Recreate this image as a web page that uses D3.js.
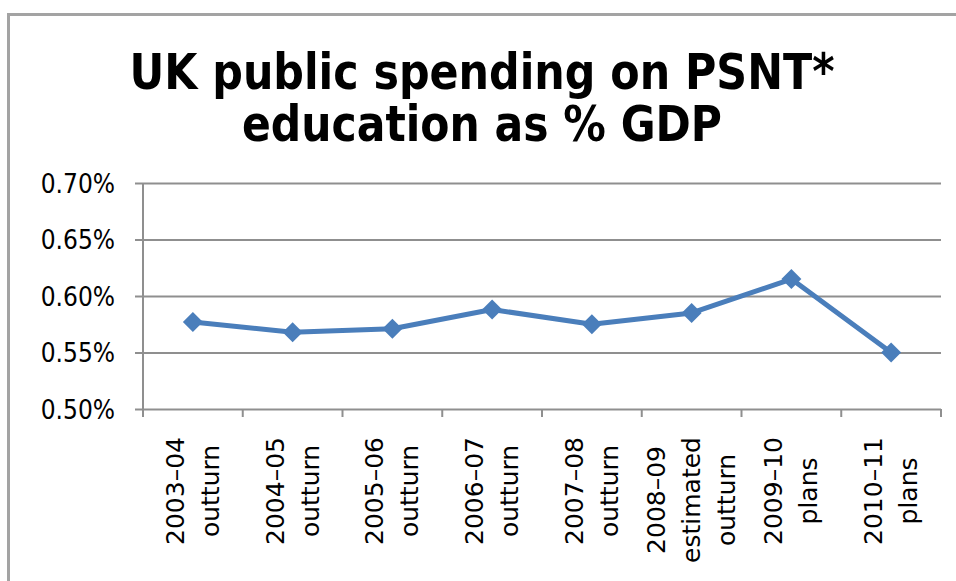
<!DOCTYPE html>
<html>
<head>
<meta charset="utf-8">
<script src="https://cdn.jsdelivr.net/npm/d3@7"></script>
<style>
  body { margin: 0; background: #fff; }
  text { fill: #000; }
</style>
</head>
<body>
<div id="chart"></div>
<script>
const width = 956,
    height = 581;

// data
const years = ['2003–04', '2004–05', '2005–06', '2006–07', '2007–08', '2008–09', '2009–10', '2010–11'];
const kinds = ['outturn', 'outturn', 'outturn', 'outturn', 'outturn', 'estimated outturn', 'plans', 'plans'];
const spending = [0.577, 0.568, 0.571, 0.588, 0.575, 0.585, 0.615, 0.550];
const yTicks = [0.50, 0.55, 0.60, 0.65, 0.70];
const titleLines = ['UK public spending on PSNT*', 'education as % GDP'];

const plot = { left: 143, right: 941, top: 183, bottom: 409 };

const svg = d3.select('#chart')
    .append('svg')
    .attr('width', width)
    .attr('height', height);

// outer frame
svg.append('rect')
    .attr('x', 8.5)
    .attr('y', 14.5)
    .attr('width', width + 20)
    .attr('height', height + 20)
    .attr('fill', '#fff')
    .attr('stroke', '#a3a3a3')
    .attr('stroke-width', 3);

// title
svg.selectAll('.title')
    .data(titleLines)
    .enter()
    .append('text')
    .attr('class', 'title')
    .attr('x', 482)
    .attr('y', (d, i) => 89 + i * 52)
    .attr('text-anchor', 'middle')
    .attr('textLength', (d, i) => i == 0 ? 705 : 480)
    .attr('lengthAdjust', 'spacingAndGlyphs')
    .style('font-family', '"DejaVu Sans Condensed", "DejaVu Sans", sans-serif')
    .style('font-weight', 'bold')
    .style('font-size', '49px')
    .text(d => d);

const xScale = d3.scaleBand()
    .domain(years)
    .range([plot.left, plot.right]);

const yScale = d3.scaleLinear()
    .domain([0.5, 0.7])
    .range([plot.bottom, plot.top]);

// gridlines + y ticks
const yAxis = d3.axisLeft(yScale)
    .tickValues(yTicks)
    .tickSize(plot.right - plot.left + 8)
    .tickSizeOuter(0)
    .tickFormat(d => d.toFixed(2) + '%');

const yAxisG = svg.append('g')
    .attr('transform', 'translate(' + plot.right + ', 0)');
yAxisG.call(yAxis);
yAxisG.select('.domain').remove();
yAxisG.selectAll('line')
    .attr('stroke', '#8f8f8f')
    .attr('stroke-width', 2);
yAxisG.selectAll('text')
    .attr('x', -(plot.right - 115))
    .attr('dy', '0.35em')
    .style('font-family', '"DejaVu Sans Condensed", "DejaVu Sans", sans-serif')
    .style('font-size', '26px')
    .style('fill', '#000');

// vertical axis line
svg.append('line')
    .attr('x1', plot.left)
    .attr('x2', plot.left)
    .attr('y1', yScale(0.7))
    .attr('y2', yScale(0.5))
    .attr('stroke', '#8f8f8f')
    .attr('stroke-width', 2);

// x axis ticks sit between categories
const xEdges = years.map(d => xScale(d)).concat([plot.right]);
svg.selectAll('.xtick')
    .data(xEdges)
    .enter()
    .append('line')
    .attr('class', 'xtick')
    .attr('x1', d => d)
    .attr('x2', d => d)
    .attr('y1', plot.bottom)
    .attr('y2', plot.bottom + 8)
    .attr('stroke', '#8f8f8f')
    .attr('stroke-width', 2);

// rotated category labels, lines centred on each other
const lineGap = 35;
years.forEach((year, i) => {
    const lines = [year].concat(kinds[i] == 'estimated outturn' ? ['estimated', 'outturn'] : [kinds[i]]);
    const cx = xScale(year) + xScale.bandwidth() / 2;
    const g = svg.append('g')
        .attr('transform', 'translate(' + cx + ',' + (plot.bottom + 28) + ') rotate(-90)');
    const texts = g.selectAll('text')
        .data(lines)
        .enter()
        .append('text')
        .attr('y', (d, j) => (j - (lines.length - 1) / 2) * lineGap + 8.5)
        .attr('text-anchor', 'middle')
        .style('font-family', '"DejaVu Sans", sans-serif')
        .style('font-size', '25px')
        .text(d => d);
    let maxW = 0;
    texts.each(function() { maxW = Math.max(maxW, this.getComputedTextLength()); });
    texts.attr('x', -maxW / 2);
});

// the series
const line = d3.line()
    .x((d, i) => xScale(years[i]) + xScale.bandwidth() / 2)
    .y(d => yScale(d));

svg.append('path')
    .datum(spending)
    .attr('d', line)
    .attr('fill', 'none')
    .attr('stroke', '#4a7ebb')
    .attr('stroke-width', 5)
    .attr('stroke-linejoin', 'round');

svg.selectAll('.dot')
    .data(spending)
    .enter()
    .append('path')
    .attr('class', 'dot')
    .attr('d', d3.symbol(d3.symbolSquare, 200))
    .attr('transform', (d, i) => 'translate(' + (xScale(years[i]) + xScale.bandwidth() / 2) + ',' + yScale(d) + ') rotate(45)')
    .attr('fill', '#4a7ebb');
</script>
</body>
</html>
